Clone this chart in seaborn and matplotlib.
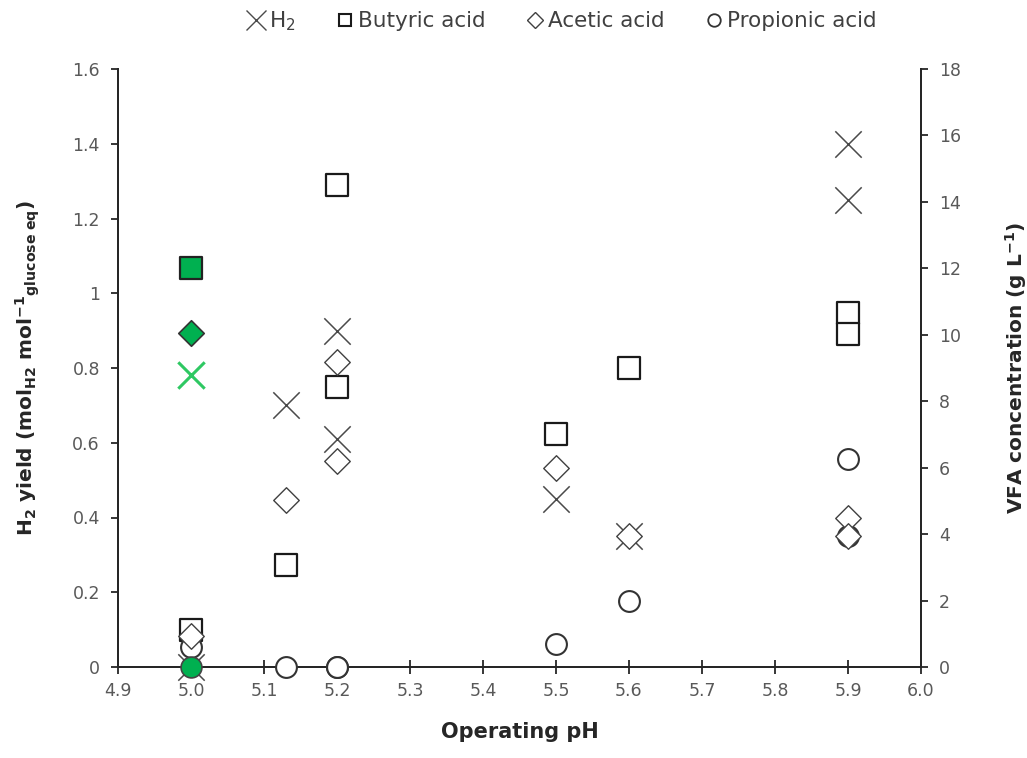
import matplotlib
matplotlib.use('Agg')
import matplotlib.pyplot as plt
from matplotlib.lines import Line2D
import seaborn as sns
import pandas as pd

# Data
ph = [5.0, 5.13, 5.2, 5.2, 5.5, 5.6, 5.9, 5.9]
h2_yield = [0.0, 0.70, 0.90, 0.61, 0.45, 0.35, 1.40, 1.25]      # mol H2 / mol glucose eq
butyric = [1.12, 3.07, 14.5, 8.42, 7.0, 9.0, 10.65, 10.02]        # g/L
acetic = [0.93, 5.03, 9.18, 6.2, 6.0, 3.95, 4.47, 3.95]           # g/L
propionic = [0.6, 0.0, 0.0, 0.0, 0.68, 2.0, 6.25, 3.95]           # g/L

# highlighted run at pH 5.0 (green)
ph_hl = [5.0]
h2_hl = [0.78]
butyric_hl = [12.0]
acetic_hl = [10.05]
propionic_hl = [0.0]

x_ticks = [4.9, 5.0, 5.1, 5.2, 5.3, 5.4, 5.5, 5.6, 5.7, 5.8, 5.9, 6.0]
left_ticks = [0, 0.2, 0.4, 0.6, 0.8, 1.0, 1.2, 1.4, 1.6]
left_labels = ['0', '0.2', '0.4', '0.6', '0.8', '1', '1.2', '1.4', '1.6']
right_ticks = list(range(0, 19, 2))

df = pd.DataFrame({'pH': ph, 'H2': h2_yield, 'Butyric': butyric,
                   'Acetic': acetic, 'Propionic': propionic})
df_hl = pd.DataFrame({'pH': ph_hl, 'H2': h2_hl, 'Butyric': butyric_hl,
                      'Acetic': acetic_hl, 'Propionic': propionic_hl})

sns.set_style('ticks')
plt.rcParams['font.family'] = ['DejaVu Sans']
plt.rcParams['mathtext.default'] = 'regular'

GREEN = '#00b050'
XGREY = '#4a4a4a'
TICKC = '#595959'

fig = plt.figure(figsize=(10.27, 7.58), dpi=100)
ax = fig.add_axes([118 / 1027, 1 - 667 / 758, (921 - 118) / 1027, (667 - 69) / 758])
ax2 = ax.twinx()

# H2 yield on left axis
sns.scatterplot(data=df, x='pH', y='H2', ax=ax, marker='x', s=19 ** 2,
                color=XGREY, linewidth=1.1, zorder=3)
sns.scatterplot(data=df_hl, x='pH', y='H2', ax=ax, marker='x', s=19 ** 2,
                color='#2ec862', linewidth=2.2, zorder=3)

# VFAs on right axis
sns.scatterplot(data=df, x='pH', y='Butyric', ax=ax2, marker='s', s=16 ** 2,
                facecolor='white', edgecolor='#1a1a1a', linewidth=1.6, zorder=3)
sns.scatterplot(data=df, x='pH', y='Propionic', ax=ax2, marker='o', s=15 ** 2,
                facecolor='white', edgecolor='#333333', linewidth=1.5, zorder=4)
sns.scatterplot(data=df, x='pH', y='Acetic', ax=ax2, marker='D', s=13 ** 2,
                facecolor='white', edgecolor='#404040', linewidth=1.0, zorder=5)
sns.scatterplot(data=df_hl, x='pH', y='Butyric', ax=ax2, marker='s', s=16 ** 2,
                facecolor=GREEN, edgecolor='#222222', linewidth=1.6, zorder=6)
sns.scatterplot(data=df_hl, x='pH', y='Acetic', ax=ax2, marker='D', s=13 ** 2,
                facecolor=GREEN, edgecolor='#333333', linewidth=1.2, zorder=6)
sns.scatterplot(data=df_hl, x='pH', y='Propionic', ax=ax2, marker='o', s=15 ** 2,
                facecolor=GREEN, edgecolor='#444444', linewidth=1.2, zorder=6)

for a in (ax, ax2):
    a.set_xlim(4.9, 6.0)
    a.spines['top'].set_visible(False)
    for sp in a.spines.values():
        sp.set_color('#262626')
        sp.set_linewidth(1.4)
    for c in a.collections:
        c.set_clip_on(False)

ax.set_ylim(0, 1.6)
ax2.set_ylim(0, 18)
ax.set_xticks(x_ticks)
ax.set_xticklabels([f'{v:.1f}' for v in x_ticks])
ax.set_yticks(left_ticks)
ax.set_yticklabels(left_labels)
ax2.set_yticks(right_ticks)

ax.tick_params(axis='x', direction='inout', length=10, width=1.3, colors='#262626',
               labelcolor=TICKC, labelsize=12.5, pad=6)
ax.tick_params(axis='y', direction='out', length=5, width=1.3, colors='#262626',
               labelcolor=TICKC, labelsize=12.5, pad=8)
ax2.tick_params(axis='y', direction='out', length=5, width=1.3, colors='#262626',
                labelcolor=TICKC, labelsize=12.5, pad=8)

ax.set_xlabel('Operating pH', fontsize=15, fontweight='bold', labelpad=16)
ax.set_ylabel(r'H$_2$ yield (mol$_{H2}$ mol$^{-1}{}_{glucose\ eq}$)',
              fontsize=14.5, fontweight='bold', labelpad=22)
ax2.set_ylabel(r'VFA concentration (g L$^{-1}$)', fontsize=14.5,
               fontweight='bold', labelpad=30)

handles = [
    Line2D([], [], marker='x', linestyle='', color=XGREY, markersize=14, markeredgewidth=1.0),
    Line2D([], [], marker='s', linestyle='', markerfacecolor='white',
           markeredgecolor='#1a1a1a', markersize=9, markeredgewidth=1.5),
    Line2D([], [], marker='D', linestyle='', markerfacecolor='white',
           markeredgecolor='#404040', markersize=8, markeredgewidth=1.0),
    Line2D([], [], marker='o', linestyle='', markerfacecolor='white',
           markeredgecolor='#333333', markersize=9, markeredgewidth=1.3),
]
labels = ['H$_2$', 'Butyric acid', 'Acetic acid', 'Propionic acid']
fig.legend(handles, labels, loc='center', bbox_to_anchor=(0.547, 0.972), ncol=4,
           frameon=False, fontsize=15.5, handlelength=0.8, handletextpad=0.2,
           columnspacing=1.9, labelcolor='#404040')

fig.savefig('out.png', dpi=100)
